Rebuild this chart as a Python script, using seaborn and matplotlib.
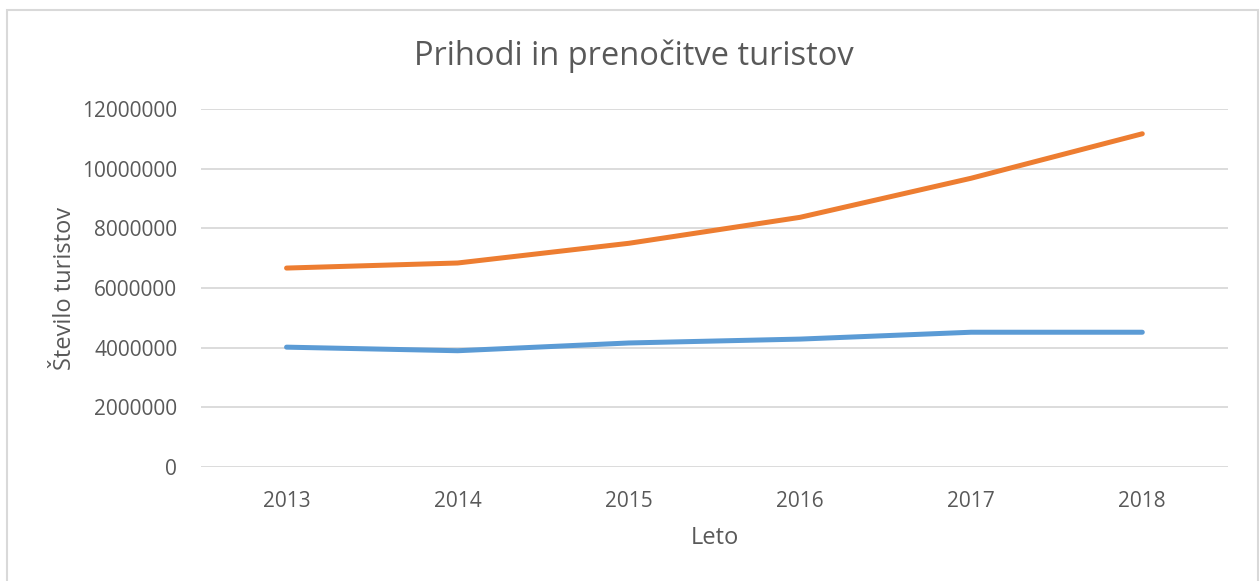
import matplotlib
matplotlib.use("Agg")
import matplotlib.pyplot as plt
import seaborn as sns
import pandas as pd
from matplotlib.patches import Rectangle

years = ["2013", "2014", "2015", "2016", "2017", "2018"]
prihodi = [4020000, 3900000, 4160000, 4290000, 4520000, 4520000]
prenocitve = [6670000, 6840000, 7500000, 8370000, 9680000, 11170000]
y_ticks = [0, 2000000, 4000000, 6000000, 8000000, 10000000, 12000000]

df = pd.DataFrame({
    "Leto": years * 2,
    "Število": prihodi + prenocitve,
    "Serija": ["Prihodi"] * len(years) + ["Prenočitve"] * len(years),
})

sns.set_theme(style="white")
plt.rcParams["font.family"] = ["Open Sans", "DejaVu Sans"]
text_col = "#595959"

fig = plt.figure(figsize=(12.6, 5.81), dpi=100)
ax = fig.add_axes([0.1595, 0.196, 0.815, 0.6164])

sns.lineplot(data=df, x="Leto", y="Število", hue="Serija",
             palette={"Prihodi": "#5B9BD5", "Prenočitve": "#ED7D31"},
             linewidth=3.6, legend=False, ax=ax, sort=False)
for ln in ax.get_lines():
    ln.set_solid_capstyle("round")
    ln.set_solid_joinstyle("round")

ax.set_xlim(-0.5, len(years) - 0.5)
ax.set_ylim(0, 12000000)
ax.set_yticks(y_ticks)
ax.set_yticklabels([str(v) for v in y_ticks])
ax.yaxis.grid(True, color="#D9D9D9", linewidth=1.3)
ax.set_axisbelow(True)
for s in ax.spines.values():
    s.set_visible(False)
ax.tick_params(axis="both", length=0, labelsize=15, colors=text_col)
ax.tick_params(axis="y", pad=17)
ax.tick_params(axis="x", pad=17)

ax.set_xlabel("Leto", fontsize=17, color=text_col, labelpad=10)
ax.set_ylabel("Število turistov", fontsize=17, color=text_col, labelpad=4)
fig.text(0.503, 0.903, "Prihodi in prenočitve turistov", ha="center", va="center",
         fontsize=23.5, color=text_col)

fig.patches.append(Rectangle((7 / 1260, -0.1), 1251 / 1260, 1.1 - 10 / 581,
                             transform=fig.transFigure, fill=False,
                             edgecolor="#D9D9D9", linewidth=1.5))

fig.savefig("out.png", dpi=100)
